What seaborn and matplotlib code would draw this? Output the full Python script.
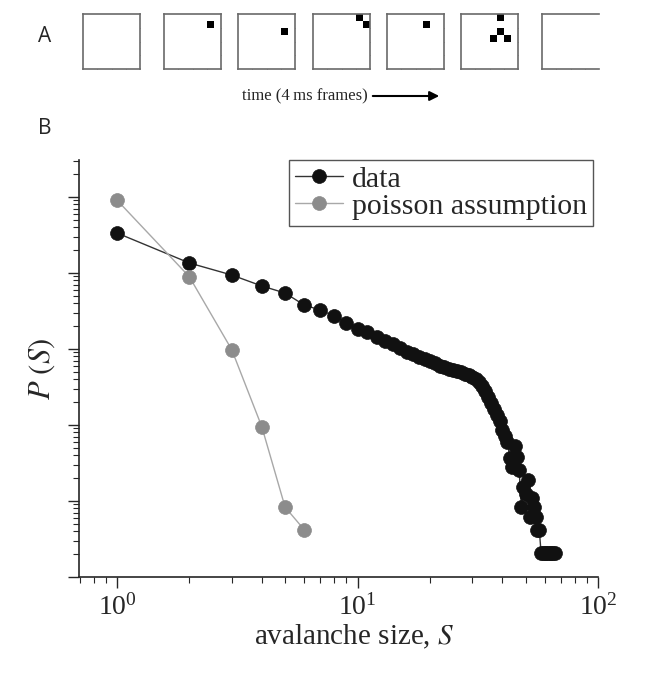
import numpy as np
import matplotlib
matplotlib.use("Agg")
import matplotlib.pyplot as plt
import seaborn as sns

# avalanche sizes and probabilities
sizes_data = list(range(1, 67))
p_data = [0.336, 0.1354, 0.0941, 0.0675, 0.0545, 0.0379, 0.0326, 0.0272, 0.0220, 0.0183,
          0.0167, 0.0144, 0.0127, 0.0116, 0.0103, 0.00913, 0.00859, 0.00785, 0.00739, 0.00695,
          0.00654, 0.00597, 0.00580, 0.00546, 0.00529, 0.00513, 0.00498, 0.00469, 0.00455, 0.00428,
          0.00403, 0.00368, 0.00326, 0.00280, 0.00234, 0.00195, 0.00162, 0.00135, 0.00113, 0.000859,
          0.000717, 0.000597, 0.000368, 0.000280, 0.000529, 0.000379, 0.000256, 8.34e-5, 0.000153, 0.000124,
          0.000189, 6.16e-5, 0.000110, 8.34e-5, 6.16e-5, 4.15e-5, 4.15e-5, 2.07e-5, 2.07e-5, 2.07e-5,
          2.07e-5, 2.07e-5, 2.07e-5, 2.07e-5, 2.07e-5, 2.07e-5]

sizes_poisson = [1, 2, 3, 4, 5, 6]
p_poisson = [0.91, 0.089, 0.0098, 0.00095, 8.3e-5, 4.2e-5]

# active electrodes (row, col) in each 8x8 frame of panel A
frame_pixels = [
    [],
    [(1, 6)],
    [(2, 6)],
    [(0, 6), (1, 7)],
    [(1, 5)],
    [(0, 5), (2, 5), (3, 4), (3, 6)],
    [],
]

sns.set_style("ticks")
plt.rcParams['font.family'] = ['Liberation Serif', 'DejaVu Serif']
plt.rcParams['mathtext.fontset'] = 'stix'

W, H = 664, 675
fig = plt.figure(figsize=(W / 100, H / 100), dpi=100)

# panel A: frames
frame_left = [83, 164, 238, 313, 387, 461, 542]
for i, pix in enumerate(frame_pixels):
    grid = np.zeros((8, 8))
    for r, c in pix:
        grid[r, c] = 1
    fa = fig.add_axes([frame_left[i] / W, 1 - 69 / H, 57 / W, 55 / H])
    sns.heatmap(grid, cmap=['white', 'black'], vmin=0, vmax=1, cbar=False,
                xticklabels=False, yticklabels=False, ax=fa)
    for name, sp in fa.spines.items():
        sp.set_visible(True)
        sp.set_color('#6a6a6a')
        sp.set_linewidth(1.2)
    last = i == len(frame_pixels) - 1
    if last:
        fa.spines['right'].set_visible(False)
    fa.set_xticks([2, 4, 6])
    fa.set_yticks([2, 4, 6])
    fa.tick_params(direction='in', length=2, width=0.8, color='#6a6a6a',
                   top=True, right=not last, bottom=True, left=True,
                   labelbottom=False, labelleft=False)

fig.text(242 / W, 1 - 96 / H, 'time (4\u2009ms frames)', fontsize=12, va='center', ha='left',
         family=['Liberation Serif', 'DejaVu Serif'])
fig.add_artist(matplotlib.patches.FancyArrowPatch(
    (370 / W, 1 - 96 / H), (442 / W, 1 - 96 / H), transform=fig.transFigure,
    arrowstyle='-|>', mutation_scale=14, color='black', lw=1.5))

fig.text(38 / W, 1 - 36 / H, 'A', family='Open Sans', fontsize=15, va='center')
fig.text(38 / W, 1 - 129 / H, 'B', family='Open Sans', fontsize=15, va='center')

# panel B: avalanche size distribution
ax = fig.add_axes([79 / W, 1 - 577 / H, 519 / W, 417 / H])
ax.set_xscale('log')
ax.set_yscale('log')
sns.lineplot(x=sizes_data, y=p_data, ax=ax, color='#333333', lw=1.0, marker='o',
             markersize=10, markerfacecolor='#111111', markeredgecolor='#111111',
             markeredgewidth=0.5, label='data')
sns.lineplot(x=sizes_poisson, y=p_poisson, ax=ax, color='#a8a8a8', lw=1.0, marker='o',
             markersize=10, markerfacecolor='#8c8c8c', markeredgecolor='#8c8c8c',
             markeredgewidth=0.5, label='poisson assumption')

ax.set_xlim(0.695, 100)
ax.set_ylim(1e-5, 10 ** 0.487)
sns.despine(ax=ax)
for sp in ax.spines.values():
    sp.set_linewidth(1.2)
ax.tick_params(which='major', length=8, width=1, labelsize=20, pad=4)
ax.tick_params(which='minor', length=4, width=0.8)
ax.tick_params(axis='y', which='both', labelleft=False)

ax.set_xlabel('avalanche size, $S$', fontsize=21)
ax.set_ylabel(r'$P\ (S)$', fontsize=22)
ax.xaxis.set_label_coords(0.53, -0.11)
ax.yaxis.set_label_coords(-0.042, 0.5)

leg = ax.legend(loc='upper right', bbox_to_anchor=(0.99, 1.0), borderaxespad=0,
                frameon=True, fancybox=False, edgecolor='#555555', framealpha=1,
                fontsize=21.5, handlelength=1.6, handletextpad=0.3, labelspacing=0.0,
                borderpad=0.2)
leg.get_frame().set_linewidth(1.0)

fig.savefig('out.png', dpi=100)
